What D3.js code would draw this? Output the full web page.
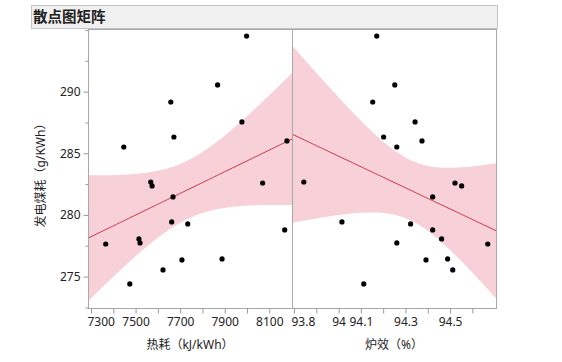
<!DOCTYPE html>
<html><head><meta charset="utf-8">
<script src="https://cdn.jsdelivr.net/npm/d3@7"></script>
<style>
body{margin:0;background:#fff;}
svg text{font-family:"Noto Sans","Noto Sans CJK SC",sans-serif;}
</style></head>
<body><svg id="c" width="562" height="362"></svg>
<script>
// Data (rows share the same coal-consumption value)
const coal = [294.51,290.54,289.16,287.54,286.32,286.00,285.51,282.67,282.59,282.35,281.46,279.43,279.27,278.78,278.05,277.73,277.64,276.43,276.35,275.54,274.40];
const heatRate = [7998,7868,7658,7977,7672,8179,7447,7568,8070,7574,7668,7662,7734,8169,7515,7520,7366,7888,7708,7623,7474];
const efficiency = [94.171,94.252,94.153,94.343,94.202,94.374,94.261,93.844,94.522,94.552,94.422,94.015,94.323,94.422,94.462,94.261,94.669,94.489,94.392,94.512,94.113];
const yTicksMajor = [275,280,285,290];
const yTicksMinor = [272.5,277.5,282.5,287.5,292.5,295];
const heatTicks = [7300,7400,7500,7600,7700,7800,7900,8000,8100];
const heatLabels = [7300,7500,7700,7900,8100];
const effTicks = [93.8,93.9,94.0,94.1,94.2,94.3,94.4,94.5,94.6];
const effLabels = [93.8,94.0,94.1,94.3,94.5];
const tCrit = 2.093; // 95%, df = 19

const svg = d3.select("#c");
const yTop = 29, yBottom = 308;
const y = d3.scaleLinear().domain([272.45, 295.08]).range([yBottom, yTop]);
const panels = [
  {x: d3.scaleLinear().domain([7286.5, 8201.8]).range([88, 292]), xs: heatRate, ticks: heatTicks, labels: heatLabels, title: "热耗（kJ/kWh）"},
  {x: d3.scaleLinear().domain([93.791, 94.706]).range([292, 496]), xs: efficiency, ticks: effTicks, labels: effLabels, title: "炉效（%）"}
];

// title bar
svg.append("rect").attr("x",31.5).attr("y",5.5).attr("width",466).attr("height",23)
  .attr("fill","#f0f0f0").attr("stroke","#c4c4c4");
svg.append("text").attr("x",33).attr("y",22).attr("font-size",14.5).attr("font-weight","bold")
  .attr("fill","#222").text("散点图矩阵");

function fit(xs, ys){
  const n = xs.length, mx = d3.mean(xs), my = d3.mean(ys);
  let sxx=0, sxy=0;
  for(let i=0;i<n;i++){sxx+=(xs[i]-mx)**2; sxy+=(xs[i]-mx)*(ys[i]-my);}
  const b = sxy/sxx, a = my - b*mx;
  let sse=0; for(let i=0;i<n;i++){sse+=(ys[i]-a-b*xs[i])**2;}
  const s = Math.sqrt(sse/(n-2));
  return {a,b,s,n,mx,sxx};
}

panels.forEach((p,i)=>{
  const [x0,x1] = p.x.range();
  svg.append("clipPath").attr("id","clip"+i).append("rect")
    .attr("x",x0).attr("y",yTop).attr("width",x1-x0).attr("height",yBottom-yTop);
  const g = svg.append("g").attr("clip-path",`url(#clip${i})`);
  const f = fit(p.xs, coal);
  const dom = p.x.domain();
  const xsample = d3.range(0,101).map(k=>dom[0]+(dom[1]-dom[0])*k/100);
  const band = xsample.map(xv=>{
    const yh = f.a+f.b*xv;
    const se = f.s*Math.sqrt(1/f.n + (xv-f.mx)**2/f.sxx);
    return {xv, lo: yh - tCrit*se, hi: yh + tCrit*se, yh};
  });
  g.append("path").datum(band)
    .attr("d", d3.area().x(d=>p.x(d.xv)).y0(d=>y(d.lo)).y1(d=>y(d.hi)))
    .attr("fill","#f8d0d8");
  g.append("path").datum(band)
    .attr("d", d3.line().x(d=>p.x(d.xv)).y(d=>y(d.yh)))
    .attr("fill","none").attr("stroke","#cc3344").attr("stroke-width",1);
  g.selectAll("circle").data(p.xs).join("circle")
    .attr("cx",d=>p.x(d)).attr("cy",(d,k)=>y(coal[k])).attr("r",2.6).attr("fill","#000");
  svg.append("rect").attr("x",x0+0.5).attr("y",yTop+0.5).attr("width",x1-x0).attr("height",yBottom-yTop)
    .attr("fill","none").attr("stroke","#a8a8a8");
  const ax = svg.append("g").attr("transform",`translate(0,${yBottom+0.5})`)
    .call(d3.axisBottom(p.x).tickValues(p.ticks).tickSize(5).tickPadding(4)
      .tickFormat(d=> p.labels.some(l=>Math.abs(l-d)<1e-6) ? String(+d.toFixed(4)) : ""));
  ax.select(".domain").remove();
  ax.selectAll(".tick line").attr("stroke","#999");
  ax.selectAll(".tick text").attr("font-size",12).attr("fill","#222");
  // first label kept inside the panel's left edge
  ax.selectAll(".tick text").filter((d,k)=>k===0)
    .attr("text-anchor","start").attr("x", d => (x0 - 1) - p.x(d));
  svg.append("text").attr("x",(x0+x1)/2).attr("y",349).attr("text-anchor","middle")
    .attr("font-size",12).attr("fill","#222").text(p.title);
});

const ay = svg.append("g").attr("transform","translate(88.5,0)")
  .call(d3.axisLeft(y).tickValues(yTicksMajor).tickSize(5).tickPadding(3).tickFormat(d3.format("d")));
ay.select(".domain").remove();
ay.selectAll(".tick line").attr("stroke","#999");
ay.selectAll(".tick text").attr("font-size",12).attr("fill","#222");
const aym = svg.append("g").attr("transform","translate(88.5,0)")
  .call(d3.axisLeft(y).tickValues(yTicksMinor).tickSize(3).tickFormat(""));
aym.select(".domain").remove();
aym.selectAll(".tick line").attr("stroke","#999");
svg.append("text").attr("transform",`translate(45,${(yTop+yBottom)/2+4}) rotate(-90)`)
  .attr("text-anchor","middle").attr("font-size",12).attr("fill","#222").text("发电煤耗（g/KWh）");
</script></body></html>
